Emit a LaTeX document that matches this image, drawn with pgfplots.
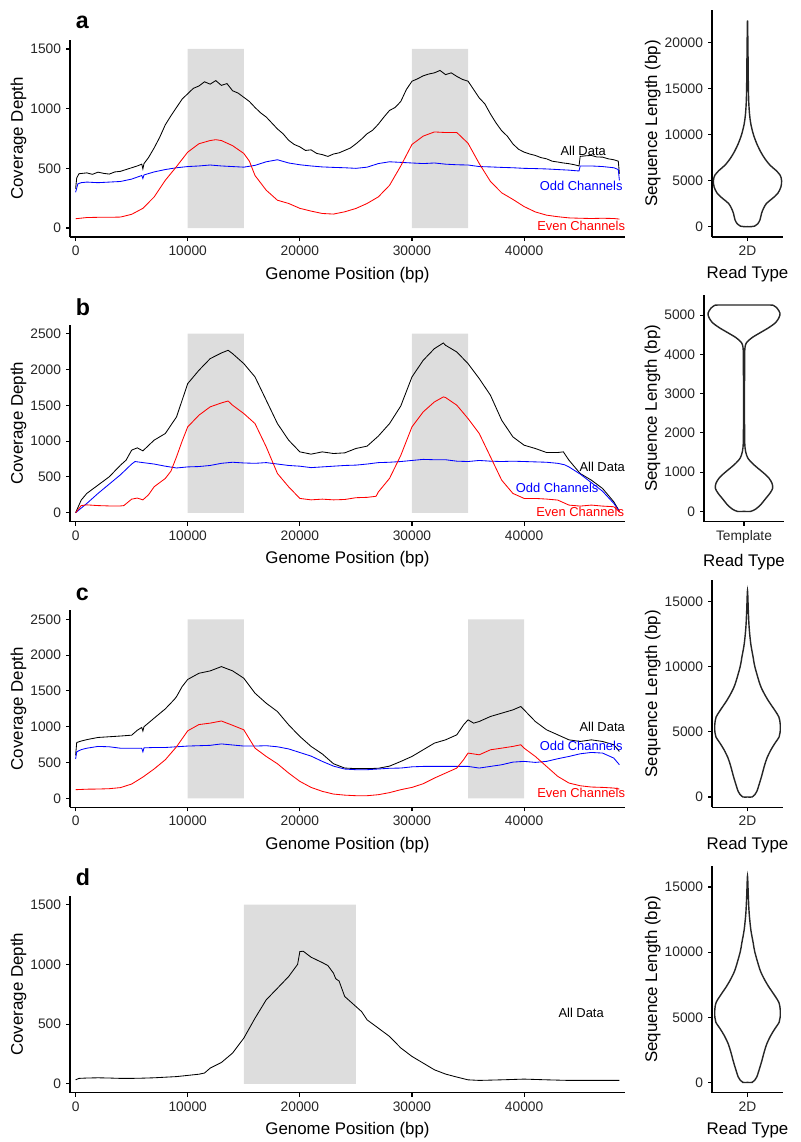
\documentclass[border=0pt]{standalone}
\usepackage{fontspec}
\setmainfont{Liberation Sans}
\usepackage{pgfplots}
\pgfplotsset{compat=1.18}

\definecolor{shade}{RGB}{221,221,221}
\definecolor{odd}{RGB}{0,0,255}
\definecolor{even}{RGB}{255,0,0}

\tikzset{ann/.style={font=\fontsize{9.2}{10}\selectfont}}

\pgfplotsset{
  base/.style={
    scale only axis,
    axis lines=left,
    axis line style={-, line width=0.8pt},
    tick align=outside,
    major tick length=0.1cm,
    tick style={black, line width=0.8pt},
    tick label style={font=\fontsize{9.8}{11}\selectfont, text=black!85},
    label style={font=\fontsize{12}{14}\selectfont},
    ylabel shift=-4pt,
    xlabel shift=1pt,
    /pgf/number format/assume math mode=true,
    /pgf/number format/1000 sep={},
    scaled ticks=false,
    clip=false,
  },
  cov/.style={
    base, width=13.875cm, height=4.925cm,
    xmin=-500, xmax=49000,
    xtick={0,10000,20000,30000,40000},
    xlabel={Genome Position (bp)}, ylabel={Coverage Depth},
  },
  vio/.style={
    base, width=1.775cm, height=5.675cm,
    xmin=0.4, xmax=1.6, xtick={1},
    xlabel={Read Type}, ylabel={Sequence Length (bp)},
  },
  cline/.style={line width=0.6pt},
  vline/.style={black!85, line width=1pt, smooth, fill=white},
}

\begin{document}
\begin{tikzpicture}
\path[use as bounding box] (0,0) rectangle (20,-28.55);

\node[anchor=base west, font=\fontsize{16.5}{18}\selectfont\bfseries] at (1.775,-0.725) {a};
\node[anchor=base west, font=\fontsize{16.5}{18}\selectfont\bfseries] at (1.775,-7.875) {b};
\node[anchor=base west, font=\fontsize{16.5}{18}\selectfont\bfseries] at (1.775,-15.0) {c};
\node[anchor=base west, font=\fontsize{16.5}{18}\selectfont\bfseries] at (1.775,-22.125) {d};

%% ---------------- panel a ----------------
\begin{axis}[cov, at={(1.75cm,-5.925cm)}, anchor=south west,
  ymin=-75, ymax=1575, ytick={0,500,1000,1500}]
\addplot[draw=none, fill=shade] coordinates {(10000,0) (10000,1500) (15000,1500) (15000,0)} \closedcycle;
\addplot[draw=none, fill=shade] coordinates {(30000,0) (30000,1500) (35000,1500) (35000,0)} \closedcycle;
\addplot[cline, black] table {
0 330
100 420
300 455
1000 462
1500 450
2000 468
2500 458
3000 452
3500 470
4000 475
4500 490
5000 505
5500 520
5900 535
6000 495
6100 540
6500 590
7000 670
7500 760
8000 865
8500 940
9000 1010
9500 1080
10000 1125
10500 1170
11000 1190
11500 1225
12000 1205
12500 1235
13000 1195
13500 1210
14000 1150
14500 1130
15000 1095
15500 1060
16000 1010
16500 965
17000 930
17500 880
18000 830
18500 790
19000 735
19500 700
20000 680
20500 650
21000 655
21500 625
22000 615
22500 600
23000 620
23500 630
24000 650
24500 670
25000 705
25500 745
26000 790
26500 820
27000 870
27500 930
28000 985
28500 1010
29000 1060
29500 1160
30000 1230
30500 1250
31000 1275
31500 1290
32000 1300
32500 1320
33000 1285
33500 1300
34000 1270
34500 1245
35000 1230
35500 1160
36000 1090
36500 1040
37000 955
37500 880
38000 815
38500 770
39000 705
39500 660
40000 636
40500 620
41000 608
41500 590
42000 580
42500 560
43000 553
43500 545
44000 539
44500 530
44900 520
45000 600
45500 605
46000 608
46500 595
47000 594
47500 580
48000 572
48400 560
48500 455
};
\addplot[cline, odd] table {
0 300
200 370
500 380
1000 385
2000 380
3000 385
4000 390
5000 410
5900 440
6000 415
6100 445
7000 470
8000 490
9000 505
10000 515
11000 520
12000 528
13000 520
14000 515
15000 510
16000 525
17000 555
18000 572
19000 545
20000 530
21000 520
22000 512
23000 508
24000 505
25000 500
26000 510
27000 540
28000 555
29000 550
30000 545
31000 540
32000 545
33000 535
34000 530
35000 528
36000 515
37000 512
38000 508
39000 505
40000 500
41000 498
42000 495
43000 490
44000 485
44900 478
45000 520
46000 520
47000 515
48000 505
48400 490
48500 400
};
\addplot[cline, even] table {
0 78
1000 88
2000 90
3000 90
4000 92
5000 115
6000 165
7000 260
8000 400
9000 515
10000 636
11000 706
12000 733
12500 740
13000 733
14000 690
15000 625
15500 560
16000 440
17000 317
18000 233
19000 206
20000 165
21000 142
22000 122
23000 117
24000 136
25000 164
26000 206
27000 261
28000 358
29000 520
30000 700
31000 770
32000 805
33000 800
34000 800
35000 710
36000 540
37000 390
38000 295
39000 240
40000 180
41000 135
42000 108
43000 95
44000 85
45000 82
46000 80
47000 82
48000 80
48500 75
};
\node[ann, text=black] at (axis cs:45268,650) {All Data};
\node[ann, text=odd] at (axis cs:45089,350) {Odd Channels};
\node[ann, text=even] at (axis cs:45089,17) {Even Channels};
\end{axis}

\begin{axis}[vio, at={(17.8cm,-5.925cm)}, anchor=south west,
  ymin=-1120, ymax=23520, ytick={0,5000,10000,15000,20000}, xticklabels={2D}]
\addplot[vline] coordinates {
(1,0) (1.06,0) (1.12,60) (1.17,290) (1.21,720) (1.237,1440) (1.27,1980)
(1.32,2520) (1.42,3060) (1.51,3600) (1.565,4320) (1.576,5000) (1.553,5575)
(1.48,6115) (1.384,6655) (1.294,7375) (1.226,8090) (1.158,8990) (1.10,10000)
(1.056,11150) (1.034,12230) (1.02,13670) (1.014,15470) (1.008,19060) (1,22400)
(0.992,19060) (0.986,15470) (0.98,13670) (0.966,12230) (0.944,11150) (0.90,10000)
(0.842,8990) (0.774,8090) (0.706,7375) (0.616,6655) (0.52,6115) (0.447,5575)
(0.424,5000) (0.435,4320) (0.49,3600) (0.58,3060) (0.68,2520) (0.73,1980)
(0.763,1440) (0.79,720) (0.83,290) (0.88,60) (0.94,0) (1,0)
};
\end{axis}

%% ---------------- panel b ----------------
\begin{axis}[cov, at={(1.75cm,-13.0425cm)}, anchor=south west,
  ymin=-125, ymax=2625, ytick={0,500,1000,1500,2000,2500}]
\addplot[draw=none, fill=shade] coordinates {(10000,0) (10000,2500) (15000,2500) (15000,0)} \closedcycle;
\addplot[draw=none, fill=shade] coordinates {(30000,0) (30000,2500) (35000,2500) (35000,0)} \closedcycle;
\addplot[cline, black] table {
0 0
500 177
1000 270
2000 386
3000 502
4000 664
4500 734
5000 874
5500 906
6000 864
7000 1013
8000 1106
9000 1338
10000 1803
11000 1989
12000 2151
13000 2230
13600 2268
14000 2221
15000 2082
16000 1896
17000 1571
18000 1245
19000 1013
20000 850
21000 818
22000 850
23000 827
24000 836
25000 897
26000 930
27000 1070
28000 1245
29000 1490
30000 1896
31000 2128
32000 2291
32800 2370
33000 2337
34000 2244
35000 2082
36000 1873
37000 1640
38000 1292
39000 1059
40000 943
41000 897
42000 841
43000 841
43500 850
44000 734
45000 548
46000 455
47000 339
48000 153
48500 20
};
\addplot[cline, odd] table {
0 0
1000 130
2000 270
3000 400
4000 530
5000 680
5300 715
6000 700
7000 680
8000 650
9000 625
10000 640
11000 645
12000 660
13000 690
14000 705
15000 695
16000 690
17000 700
18000 680
19000 660
20000 650
21000 630
22000 640
23000 650
24000 660
25000 665
26000 680
27000 700
28000 705
29000 715
30000 730
31000 745
32000 740
33000 740
34000 720
35000 715
36000 730
37000 720
38000 715
39000 720
40000 715
41000 710
42000 705
43000 690
43600 670
44000 640
45000 540
46000 420
47000 300
48000 130
48500 20
};
\addplot[cline, even] table {
0 0
500 100
1000 110
2000 100
3000 95
4000 95
4300 100
5000 190
5500 205
6000 180
6500 250
7000 362
8000 479
8500 580
9000 781
9500 1000
10000 1199
11000 1362
12000 1478
13000 1533
13600 1560
14000 1501
15000 1385
16000 1245
17000 920
18000 548
19000 362
20000 200
21000 180
22000 190
23000 180
24000 185
25000 210
26000 215
26800 230
27000 290
28000 480
29000 800
30000 1199
31000 1408
32000 1547
32800 1617
33000 1608
34000 1501
35000 1315
36000 1106
37000 781
38000 455
39000 270
40000 200
41000 200
42000 191
43000 177
44000 107
45000 93
46000 107
47000 93
48000 84
48500 14
};
\node[ann, text=black] at (axis cs:46964,637) {All Data};
\node[ann, text=odd] at (axis cs:42946,344) {Odd Channels};
\node[ann, text=even] at (axis cs:45000,10) {Even Channels};
\end{axis}

\begin{axis}[vio, width=2.0cm, at={(17.6cm,-13.0425cm)}, anchor=south west,
  ymin=-263, ymax=5523, ytick={0,1000,2000,3000,4000,5000}, xticklabels={Template}]
\addplot[vline] coordinates {
(1,0) (1.10,0) (1.175,59) (1.25,169) (1.31,296) (1.39,465) (1.43,591)
(1.42,718) (1.375,845) (1.30,971) (1.21,1098) (1.125,1225) (1.06,1351)
(1.025,1520) (1.01,1816) (1.0075,2914) (1.01,3927) (1.015,4180) (1.04,4307)
(1.125,4434) (1.25,4561) (1.375,4687) (1.475,4814) (1.525,4941) (1.54,5051)
(1.50,5170) (1.45,5240) (1.39,5260) (1,5260)
(0.61,5260) (0.55,5240) (0.50,5170) (0.46,5051) (0.475,4941) (0.525,4814)
(0.625,4687) (0.75,4561) (0.875,4434) (0.96,4307) (0.985,4180) (0.99,3927)
(0.9925,2914) (0.99,1816) (0.975,1520) (0.94,1351) (0.875,1225) (0.79,1098)
(0.70,971) (0.625,845) (0.58,718) (0.57,591) (0.61,465) (0.69,296)
(0.75,169) (0.825,59) (0.90,0) (1,0)
};
\end{axis}

%% ---------------- panel c ----------------
\begin{axis}[cov, at={(1.75cm,-20.1825cm)}, anchor=south west,
  ymin=-125, ymax=2625, ytick={0,500,1000,1500,2000,2500}]
\addplot[draw=none, fill=shade] coordinates {(10000,0) (10000,2500) (15000,2500) (15000,0)} \closedcycle;
\addplot[draw=none, fill=shade] coordinates {(35000,0) (35000,2500) (40000,2500) (40000,0)} \closedcycle;
\addplot[cline, black] table {
0 600
100 780
500 800
1000 820
2000 850
3000 860
4000 870
5000 882
5500 950
5900 990
6000 940
6100 1000
7000 1119
8000 1249
8800 1380
9000 1420
9500 1560
10000 1660
11000 1746
12000 1779
13000 1839
14000 1780
15000 1677
16000 1468
17000 1328
18000 1212
19000 1026
20000 864
21000 725
22000 620
23000 483
24000 423
25000 415
26000 415
27000 420
28000 450
29000 515
30000 585
31000 678
32000 771
33000 817
34000 887
34600 1026
35000 1096
35500 1050
36000 1073
37000 1143
38000 1189
39000 1235
39700 1282
40000 1235
41000 1073
42000 957
43000 887
44000 817
45000 794
46000 817
47000 794
48000 748
48500 655
};
\addplot[cline, odd] table {
0 550
100 650
500 680
1000 700
2000 725
3000 720
4000 700
5000 700
5900 700
6000 650
6100 705
7000 710
8000 710
9000 720
10000 730
11000 735
12000 740
13000 760
14000 745
15000 730
16000 730
17000 735
18000 720
19000 690
20000 640
21000 590
22000 516
23000 450
24000 409
25000 400
26000 400
27000 410
28000 420
29000 423
30000 440
31000 446
32000 446
33000 446
34000 446
35000 446
36000 423
37000 446
38000 469
39000 506
40000 516
41000 502
42000 516
43000 553
44000 585
45000 622
46000 641
47000 632
48000 562
48500 469
};
\addplot[cline, even] table {
0 121
1000 128
2000 130
3000 135
4000 150
5000 200
6000 297
7000 410
8000 539
9000 720
10000 943
11000 1030
12000 1050
13000 1080
14000 1020
15000 957
16000 701
17000 585
18000 483
19000 353
20000 237
21000 153
22000 98
23000 60
24000 45
25000 37
26000 37
27000 51
28000 80
29000 121
30000 153
31000 204
32000 283
33000 353
34000 423
34600 539
35000 632
36000 608
37000 678
38000 701
39000 725
39700 748
40000 701
41000 585
42000 446
43000 307
44000 214
45000 176
46000 158
47000 153
48000 144
48500 130
};
\node[ann, text=black] at (axis cs:46964,999) {All Data};
\node[ann, text=odd] at (axis cs:45089,735) {Odd Channels};
\node[ann, text=even] at (axis cs:45089,79) {Even Channels};
\end{axis}

\begin{axis}[vio, at={(17.8cm,-20.1825cm)}, anchor=south west,
  ymin=-792, ymax=16632, ytick={0,5000,10000,15000}, xticklabels={2D}]
\addplot[vline] coordinates {
(1,0) (1.079,0) (1.124,178) (1.158,431) (1.186,812) (1.237,1574) (1.282,2335)
(1.327,2969) (1.394,3604) (1.462,4112) (1.535,4619) (1.552,5000) (1.552,5634)
(1.53,6142) (1.462,6650) (1.349,7411) (1.27,8045) (1.208,8680) (1.124,10000)
(1.096,10710) (1.056,11726) (1.028,12995) (1.014,14264) (1,15840)
(0.986,14264) (0.972,12995) (0.944,11726) (0.904,10710) (0.876,10000)
(0.792,8680) (0.73,8045) (0.651,7411) (0.538,6650) (0.47,6142) (0.448,5634)
(0.448,5000) (0.465,4619) (0.538,4112) (0.606,3604) (0.673,2969) (0.718,2335)
(0.763,1574) (0.814,812) (0.842,431) (0.876,178) (0.921,0) (1,0)
};
\end{axis}

%% ---------------- panel d ----------------
\begin{axis}[cov, at={(1.75cm,-27.3175cm)}, anchor=south west,
  ymin=-75, ymax=1575, ytick={0,500,1000,1500}]
\addplot[draw=none, fill=shade] coordinates {(15000,0) (15000,1500) (25000,1500) (25000,0)} \closedcycle;
\addplot[cline, black] table {
0 33
300 45
1000 48
2000 50
3000 48
4000 45
5000 45
6000 47
7000 50
8000 55
9000 60
10000 70
11000 80
11500 90
12000 131
13000 178
14000 257
15000 382
16000 549
17000 703
18000 800
19000 898
19800 1000
20000 1107
20300 1110
21000 1060
22000 1015
22500 990
23000 926
23200 880
23500 860
24000 731
25000 647
25500 605
26000 535
27000 466
28000 396
29000 300
30000 229
31000 173
32000 117
33000 81
34000 56
35000 33
36000 28
38000 33
40000 39
42000 33
44000 28
48500 28
};
\node[ann, text=black] at (axis cs:45089,594) {All Data};
\end{axis}

\begin{axis}[vio, at={(17.8cm,-27.3175cm)}, anchor=south west,
  ymin=-792, ymax=16632, ytick={0,5000,10000,15000}, xticklabels={2D}]
\addplot[vline] coordinates {
(1,0) (1.079,0) (1.124,178) (1.158,431) (1.186,812) (1.237,1574) (1.282,2335)
(1.327,2969) (1.394,3604) (1.462,4112) (1.535,4619) (1.552,5000) (1.552,5634)
(1.53,6142) (1.462,6650) (1.349,7411) (1.27,8045) (1.208,8680) (1.124,10000)
(1.096,10710) (1.056,11726) (1.028,12995) (1.014,14264) (1,15840)
(0.986,14264) (0.972,12995) (0.944,11726) (0.904,10710) (0.876,10000)
(0.792,8680) (0.73,8045) (0.651,7411) (0.538,6650) (0.47,6142) (0.448,5634)
(0.448,5000) (0.465,4619) (0.538,4112) (0.606,3604) (0.673,2969) (0.718,2335)
(0.763,1574) (0.814,812) (0.842,431) (0.876,178) (0.921,0) (1,0)
};
\end{axis}
\end{tikzpicture}
\end{document}
